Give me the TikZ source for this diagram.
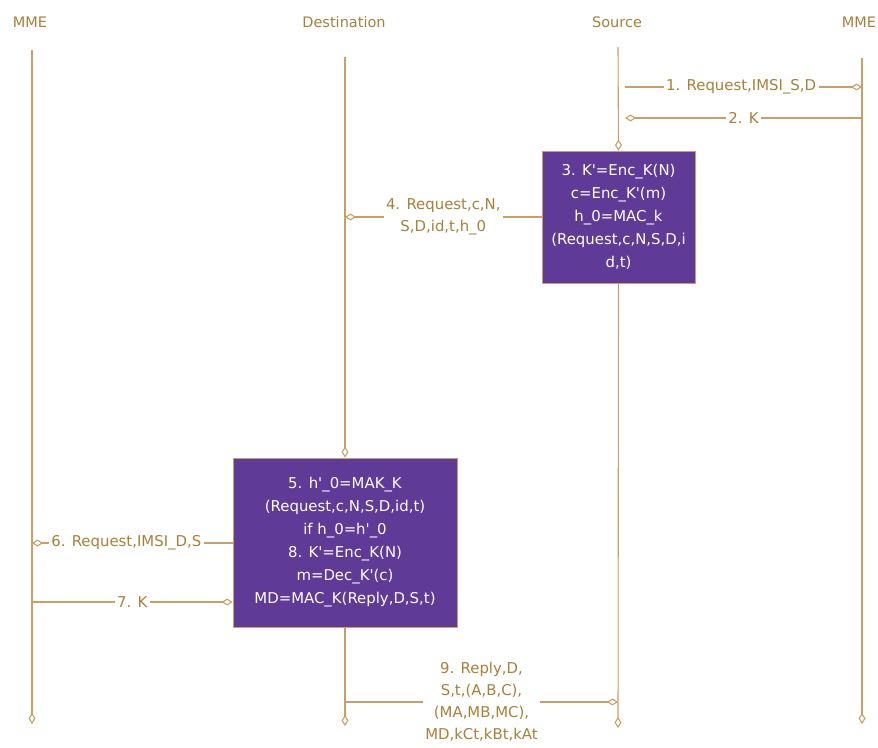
\documentclass[tikz,border=0pt]{standalone}
\usepackage{fontspec}
\setmainfont{DejaVu Sans}
\usetikzlibrary{arrows.meta}
\definecolor{tanline}{RGB}{200,160,100}
\definecolor{tantext}{RGB}{168,128,58}
\definecolor{purp}{RGB}{95,58,150}
\newcommand{\q}{\textquotesingle}
\begin{document}
\begin{tikzpicture}[x=1pt,y=-1pt,
  life/.style={draw=tanline, line width=1.1pt},
  dtip/.style={-{Diamond[open,length=11pt,width=7pt]}},
  lbl/.style={text=tantext, font=\fontsize{14.9}{21.5}\selectfont, align=center, inner sep=2.5pt, fill=white},
  hdr/.style={text=tantext, font=\fontsize{14.5}{17}\selectfont, inner sep=0pt},
  pbox/.style={draw=tanline, line width=0.8pt, fill=purp, text=white, font=\fontsize{14.9}{23}\selectfont, align=center, inner sep=0pt}]
\useasboundingbox (0,0) rectangle (878,747);
% headers
\node[hdr] (hM1) at (30,22) {MME};
\node[hdr] (hD) at (344,22) {Destination};
\node[hdr] (hS) at (617,22) {Source};
\node[hdr] (hM2) at (859,22) {MME};
% boxes
\node[pbox, minimum width=153pt, minimum height=132pt] (b3) at (618.5,217)
  {3. K\q=Enc\_K(N)\\c=Enc\_K\q(m)\\h\_0=MAC\_k\\(Request,c,N,S,D,i\\d,t)};
\node[pbox, minimum width=224pt, minimum height=169pt] (b5) at (345,542.5)
  {5. h\q\_0=MAK\_K\\(Request,c,N,S,D,id,t)\\if h\_0=h\q\_0\\8. K\q=Enc\_K(N)\\m=Dec\_K\q(c)\\MD=MAC\_K(Reply,D,S,t)};
% lifeline coordinates
\coordinate (mLt) at (32,50);
\coordinate (mLb) at (32,724);
\coordinate (dt) at (345,57);
\coordinate (db) at (345,726);
\coordinate (st) at (618,47);
\coordinate (sb) at (618,728);
\coordinate (mRt) at (862,58);
\coordinate (mRb) at (862,724);
% lifelines
\draw[life,dtip] (mLt) -- (mLb);
\draw[life,dtip] (dt) -- (b5.north);
\draw[life,dtip] (b5.south) -- (db);
\draw[life,dtip] (st) -- (b3.north);
\draw[life,dtip] (b3.south) -- (sb);
\draw[life,dtip] (mRt) -- (mRb);
% message coordinates
\coordinate (m1s) at (625,87);
\coordinate (m1e) at (862,87);
\coordinate (m2s) at (862,118);
\coordinate (m2e) at (625,118);
\coordinate (m4e) at (345,217);
\coordinate (m6e) at (32,543);
\coordinate (m7s) at (32,602);
\coordinate (m9s) at (345,702);
\coordinate (m9e) at (618,702);
% messages
\draw[life,dtip] (m1s) -- (m1e) node[lbl, pos=0.49] (l1) {1. Request,IMSI\_S,D};
\draw[life,dtip] (m2s) -- (m2e) node[lbl, pos=0.5] (l2) {2. K};
\draw[life,dtip] (b3.west) -- (m4e) node[lbl, pos=0.5] (l4) {4. Request,c,N,\\S,D,id,t,h\_0};
\draw[life,dtip] (b5.west |- m6e) -- (m6e) node[lbl, pos=0.53] (l6) {6. Request,IMSI\_D,S};
\draw[life,dtip] (m7s) -- (m7s -| b5.west) node[lbl, pos=0.5] (l7) {7. K};
\draw[life,dtip] (m9s) -- (m9e) node[lbl, pos=0.5, font=\fontsize{14.9}{22}\selectfont] (l9) {9. Reply,D,\\S,t,(A,B,C),\\(MA,MB,MC),\\MD,kCt,kBt,kAt};
\end{tikzpicture}
\end{document}
